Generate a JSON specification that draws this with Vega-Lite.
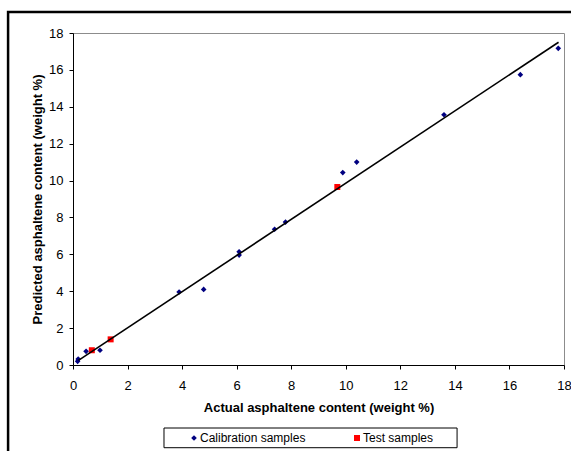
{
  "$schema": "https://vega.github.io/schema/vega-lite/v6.json",
  "width": 491,
  "height": 332,
  "autosize": "none",
  "padding": {"left": 73, "top": 33, "right": 7, "bottom": 86},
  "background": "white",
  "config": {
    "view": {"stroke": "#8c8c8c", "strokeWidth": 1},
    "font": "Liberation Sans",
    "axis": {
      "labelFont": "Liberation Sans",
      "labelFontSize": 13,
      "labelColor": "black",
      "labelOverlap": false,
      "labelFlush": false,
      "titleFont": "Liberation Sans",
      "titleFontSize": 13,
      "titleFontWeight": "bold",
      "titleColor": "black",
      "domainColor": "black",
      "tickColor": "black",
      "tickSize": 4,
      "grid": false
    },
    "axisX": {"labelPadding": 10, "titlePadding": 9},
    "axisY": {"labelPadding": 6, "titlePadding": 4},
    "legend": {
      "labelFont": "Liberation Sans",
      "labelFontSize": 12,
      "labelColor": "black"
    }
  },
  "datasets": {
    "points": [
      {"actual": 0.17, "predicted": 0.2, "series": "Calibration samples"},
      {"actual": 0.19, "predicted": 0.32, "series": "Calibration samples"},
      {"actual": 0.48, "predicted": 0.74, "series": "Calibration samples"},
      {"actual": 0.99, "predicted": 0.8, "series": "Calibration samples"},
      {"actual": 3.89, "predicted": 3.96, "series": "Calibration samples"},
      {"actual": 4.79, "predicted": 4.1, "series": "Calibration samples"},
      {"actual": 6.09, "predicted": 6.14, "series": "Calibration samples"},
      {"actual": 6.09, "predicted": 5.96, "series": "Calibration samples"},
      {"actual": 7.39, "predicted": 7.36, "series": "Calibration samples"},
      {"actual": 7.79, "predicted": 7.75, "series": "Calibration samples"},
      {"actual": 9.89, "predicted": 10.43, "series": "Calibration samples"},
      {"actual": 10.4, "predicted": 11.0, "series": "Calibration samples"},
      {"actual": 13.6, "predicted": 13.57, "series": "Calibration samples"},
      {"actual": 16.4, "predicted": 15.74, "series": "Calibration samples"},
      {"actual": 17.79, "predicted": 17.17, "series": "Calibration samples"},
      {"actual": 0.69, "predicted": 0.8, "series": "Test samples"},
      {"actual": 1.38, "predicted": 1.39, "series": "Test samples"},
      {"actual": 9.69, "predicted": 9.65, "series": "Test samples"}
    ],
    "fit": [
      {"actual": 0.2, "predicted": 0.25},
      {"actual": 17.8, "predicted": 17.5}
    ]
  },
  "layer": [
    {
      "data": {"name": "points"},
      "mark": {"type": "point", "filled": true, "opacity": 1, "strokeWidth": 0},
      "encoding": {
        "x": {
          "field": "actual",
          "type": "quantitative",
          "title": "Actual asphaltene content (weight %)",
          "scale": {"domain": [0, 18], "nice": false},
          "axis": {"values": [0, 2, 4, 6, 8, 10, 12, 14, 16, 18]}
        },
        "y": {
          "field": "predicted",
          "type": "quantitative",
          "title": "Predicted asphaltene content (weight %)",
          "scale": {"domain": [0, 18], "nice": false},
          "axis": {"values": [0, 2, 4, 6, 8, 10, 12, 14, 16, 18]}
        },
        "color": {
          "field": "series",
          "type": "nominal",
          "scale": {"domain": ["Calibration samples", "Test samples"], "range": ["#000080", "#ff0000"]},
          "legend": {
            "title": null,
            "orient": "none",
            "legendX": 91,
            "legendY": 395,
            "direction": "horizontal",
            "padding": 4,
            "symbolOffset": 20,
            "columnPadding": 25,
            "labelOffset": 0,
            "symbolSize": 30
          }
        },
        "shape": {
          "field": "series",
          "type": "nominal",
          "scale": {"domain": ["Calibration samples", "Test samples"], "range": ["diamond", "square"]}
        },
        "size": {
          "field": "series",
          "type": "nominal",
          "scale": {"domain": ["Calibration samples", "Test samples"], "range": [32, 36]},
          "legend": null
        }
      }
    },
    {
      "data": {"name": "fit"},
      "mark": {"type": "line", "color": "black", "strokeWidth": 1.6},
      "encoding": {
        "x": {"field": "actual", "type": "quantitative", "title": "Actual asphaltene content (weight %)", "axis": {"values": [0, 2, 4, 6, 8, 10, 12, 14, 16, 18]}},
        "y": {"field": "predicted", "type": "quantitative", "title": "Predicted asphaltene content (weight %)", "axis": {"values": [0, 2, 4, 6, 8, 10, 12, 14, 16, 18]}}
      }
    },
    {
      "data": {"values": [{}]},
      "mark": {"type": "rect", "filled": false, "stroke": "black", "strokeWidth": 2.5, "clip": false},
      "encoding": {
        "x": {"datum": -2.38, "type": "quantitative", "title": "Actual asphaltene content (weight %)", "axis": {"values": [0, 2, 4, 6, 8, 10, 12, 14, 16, 18]}},
        "x2": {"datum": 21},
        "y": {"datum": 19.14, "type": "quantitative", "title": "Predicted asphaltene content (weight %)", "axis": {"values": [0, 2, 4, 6, 8, 10, 12, 14, 16, 18]}},
        "y2": {"datum": -10}
      }
    },
    {
      "data": {"values": [{}]},
      "mark": {"type": "rect", "fill": "white", "stroke": "black", "strokeWidth": 1, "clip": false},
      "encoding": {
        "x": {"datum": 3.336, "type": "quantitative", "title": "Actual asphaltene content (weight %)", "axis": {"values": [0, 2, 4, 6, 8, 10, 12, 14, 16, 18]}},
        "x2": {"datum": 14.08},
        "y": {"datum": -3.416, "type": "quantitative", "title": "Predicted asphaltene content (weight %)", "axis": {"values": [0, 2, 4, 6, 8, 10, 12, 14, 16, 18]}},
        "y2": {"datum": -4.484}
      }
    }
  ]
}
